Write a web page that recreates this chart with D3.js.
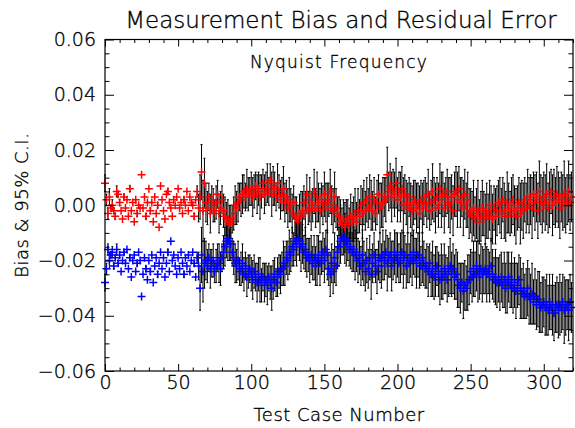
<!DOCTYPE html>
<html><head><meta charset="utf-8">
<script src="https://cdn.jsdelivr.net/npm/d3@7"></script>
<style>body{margin:0;background:#fff} svg text{font-family:"DejaVu Sans",sans-serif;font-weight:200;fill:#000;stroke:#000;stroke-width:0.35px}</style>
</head><body><svg id="c" width="575" height="428"></svg>
<script>
// Bias values in thousandths (x 0.001), case numbers 0..319
const redBiasMilli = [
8,2,-3,3,-1,0,-2,-4,5,4, 1,-2,-5,3,-1,2,-4,6,-2,1, -6,2,-3,0,-1,11,-1,3,-4,1, 6,-2,1,-6,3,-3,0,-8,7,2,
-2,-5,4,5,1,-1,-4,2,0,3, 6,-1,1,-3,2,0,5,-2,3,1, 0,-4,2,5,-1,3,12,-2,8,1, -1,3,-3,2,0,-2,1,4,-3,-1,
2,-2,-4,-5,-6,-7,-6,-5,-3,0, -1,1,3,2,4,5,3,6,4,5, 6,3,5,7,4,6,3,5,8,4, 6,8,5,9,4,7,6,3,8,5,
2,4,6,1,3,-1,2,0,-3,1, -4,-5,-6,-3,-4,-2,1,-3,4,-1, 2,-2,0,5,-1,3,1,-2,2,0, 4,1,-1,2,5,0,-2,3,-1,-3,
-4,-6,-7,-5,-8,-6,-5,-7,-4,-6, -5,-3,-6,-2,-4,0,-3,1,-2,2, -1,3,0,-2,2,-3,1,4,-1,0, 1,3,2,11,5,7,3,6,4,8,
2,5,3,6,0,4,1,-1,3,0, -2,1,2,-1,0,-3,2,-1,1,3, 0,4,-2,1,5,2,-1,3,0,6, 2,4,-1,3,5,1,0,3,-2,4,
5,2,6,1,3,-1,4,0,2,-3, -2,-4,-1,-5,-3,-2,-6,-4,-1,-3, -5,-2,-4,0,-3,-5,-1,-4,-2,1, 0,-3,2,-2,-4,1,-1,-3,0,2,
-2,-4,-1,1,-3,0,-2,2,-1,3, 0,2,-1,4,1,3,-2,5,2,0, 3,1,4,-1,2,5,0,3,1,4, 2,-1,3,1,4,0,2,5,1,3
];
const blueBiasMilli = [
-28,-23,-16,-20,-18,-17,-22,-19,-16,-21, -18,-24,-20,-17,-21,-16,-23,-19,-26,-20, -18,-24,-21,-17,-20,-33,-25,-19,-23,-27, -20,-24,-18,-28,-22,-19,-25,-21,-17,-23,
-19,-26,-21,-17,-24,-13,-20,-18,-22,-25, -19,-23,-17,-21,-25,-19,-22,-18,-24,-20, -17,-21,-26,-19,-22,-30,-18,-24,-21,-20, -22,-19,-23,-21,-20,-24,-22,-19,-21,-23,
-19,-17,-15,-13,-12,-13,-14,-17,-19,-21, -22,-20,-24,-23,-21,-25,-22,-26,-24,-23, -25,-27,-24,-26,-28,-25,-27,-29,-26,-28, -27,-29,-26,-28,-30,-27,-25,-28,-26,-24,
-25,-23,-21,-22,-19,-20,-17,-18,-15,-16, -13,-14,-12,-13,-15,-14,-17,-16,-19,-18, -20,-18,-21,-19,-22,-20,-18,-21,-19,-17, -20,-16,-18,-23,-25,-21,-24,-19,-22,-17,
-15,-13,-12,-11,-12,-14,-13,-16,-15,-17, -16,-18,-17,-20,-19,-22,-18,-21,-24,-20, -23,-19,-25,-21,-18,-22,-24,-20,-19,-22, -18,-20,-17,-21,-19,-18,-22,-20,-17,-19,
-18,-21,-19,-17,-20,-18,-22,-19,-21,-18, -20,-17,-19,-21,-18,-20,-22,-19,-21,-23, -22,-24,-21,-25,-23,-26,-24,-22,-25,-27, -24,-26,-23,-25,-27,-24,-22,-25,-23,-26,
-25,-27,-29,-30,-28,-31,-29,-30,-28,-27, -24,-26,-23,-25,-22,-24,-26,-23,-25,-24, -23,-25,-24,-26,-22,-25,-27,-26,-28,-27, -28,-26,-29,-27,-30,-28,-26,-29,-27,-30,
-28,-31,-29,-27,-30,-32,-31,-33,-32,-30, -33,-34,-32,-35,-33,-36,-34,-35,-37,-36, -35,-37,-36,-38,-35,-37,-36,-39,-37,-36, -38,-36,-37,-35,-38,-37,-36,-38,-35,-37
];
// 95% C.I. half-widths in thousandths (0 = no bar drawn)
const ciHalfMilli = [
3,2,2,3,1,2,1,1,2,1, 1,0,0,1,0,0,0,1,0,0, 0,0,1,0,0,0,0,0,1,0, 0,1,0,0,0,0,1,0,0,0,
0,0,0,1,0,0,0,0,0,0, 0,0,0,0,1,0,0,0,0,0, 0,1,0,2,5,8,10,11,9,7, 6,5,7,5,6,4,6,5,7,6,
5,6,7,6,8,7,6,5,6,7, 6,7,5,6,7,6,5,7,6,5, 6,7,6,5,7,6,8,6,5,7, 6,7,5,6,8,7,6,5,7,6,
7,6,8,7,6,7,8,6,7,6, 7,8,6,7,9,7,6,8,7,6, 8,7,6,8,7,9,7,8,6,7, 8,7,9,6,8,7,8,9,7,6,
7,8,6,7,9,8,7,6,8,7, 8,9,7,8,6,7,9,8,7,8, 7,8,9,7,8,6,8,7,9,8, 9,7,8,10,7,8,9,7,8,9,
8,7,9,8,10,7,8,9,7,8, 9,8,7,9,8,10,7,9,8,7, 8,9,7,8,10,8,9,7,8,9, 10,8,9,7,8,9,10,8,9,8,
9,10,8,9,7,10,9,8,10,9, 8,9,10,8,9,11,8,9,10,8, 9,10,8,9,10,9,8,10,9,8, 10,9,8,10,9,11,9,8,10,9,
9,10,8,9,11,9,10,8,9,10, 10,9,11,8,10,9,10,11,9,10, 9,10,11,9,10,8,11,10,9,10, 10,11,9,10,12,10,9,11,10,9
];
const xMajorTicks = [0,50,100,150,200,250,300];
const xMinorTicks = [10,20,30,40,60,70,80,90,110,120,130,140,160,170,180,190,210,220,230,240,260,270,280,290,310,320];
const yMajorTicks = [-0.06,-0.04,-0.02,0.00,0.02,0.04,0.06];
const yMinorTicks = [-0.055,-0.05,-0.045,-0.035,-0.03,-0.025,-0.015,-0.01,-0.005,0.005,0.01,0.015,0.025,0.03,0.035,0.045,0.05,0.055];
const titleText = "Measurement Bias and Residual Error";
const noteText = "Nyquist Frequency";
const xLabel = "Test Case Number";
const yLabel = "Bias & 95% C.I.";

const svg = d3.select("#c");
const L=105, R=573, T=39.5, B=371;
const x = d3.scaleLinear().domain([0,320]).range([L,R]);
const y = d3.scaleLinear().domain([-0.06,0.06]).range([B,T]);

function mk(series){ return series.map((v,i)=>({i, v:v/1000, h:ciHalfMilli[i]/1000})); }
const red = mk(redBiasMilli), blue = mk(blueBiasMilli);

// zero line
svg.append("line").attr("x1",L).attr("x2",R).attr("y1",y(0)).attr("y2",y(0))
  .attr("stroke","#888").attr("stroke-dasharray","1,3");

// error bars
function bars(data){
  const g = svg.append("g").attr("stroke","#000").attr("stroke-width",1);
  data.filter(d=>d.h>0).forEach(d=>{
    const cx = x(d.i);
    g.append("line").attr("x1",cx).attr("x2",cx).attr("y1",y(d.v-d.h)).attr("y2",y(d.v+d.h));
    g.append("line").attr("x1",cx-1).attr("x2",cx+1).attr("y1",y(d.v-d.h)).attr("y2",y(d.v-d.h));
    g.append("line").attr("x1",cx-1).attr("x2",cx+1).attr("y1",y(d.v+d.h)).attr("y2",y(d.v+d.h));
  });
}
bars(red); bars(blue);

function marks(data,color){
  svg.append("g").selectAll("path").data(data).join("path")
    .attr("d",d=>`M${x(d.i)-4},${y(d.v)}H${x(d.i)+4}M${x(d.i)},${y(d.v)-4}V${y(d.v)+4}`)
    .attr("stroke",color).attr("stroke-width",1.5).attr("fill","none");
}
marks(red,"#ff0000"); marks(blue,"#0000ff");

// axes
const fmt = d3.format(".2f");
svg.append("g").attr("transform",`translate(0,${B})`)
  .call(d3.axisBottom(x).tickValues(xMajorTicks).tickSize(-7).tickPadding(5).tickFormat(d3.format("d")))
  .call(g=>g.select(".domain").remove());
svg.append("g").attr("transform",`translate(0,${B})`)
  .call(d3.axisBottom(x).tickValues(xMinorTicks).tickSize(-3.5).tickFormat(""))
  .call(g=>g.select(".domain").remove());
svg.append("g").attr("transform",`translate(0,${T})`)
  .call(d3.axisTop(x).tickValues(xMajorTicks).tickSize(-7).tickFormat(""))
  .call(g=>g.select(".domain").remove());
svg.append("g").attr("transform",`translate(0,${T})`)
  .call(d3.axisTop(x).tickValues(xMinorTicks).tickSize(-3.5).tickFormat(""))
  .call(g=>g.select(".domain").remove());
svg.append("g").attr("transform",`translate(${L},0)`)
  .call(d3.axisLeft(y).tickValues(yMajorTicks).tickSize(-9).tickPadding(9).tickFormat(fmt))
  .call(g=>g.select(".domain").remove());
svg.append("g").attr("transform",`translate(${L},0)`)
  .call(d3.axisLeft(y).tickValues(yMinorTicks).tickSize(-4.5).tickFormat(""))
  .call(g=>g.select(".domain").remove());
svg.append("g").attr("transform",`translate(${R},0)`)
  .call(d3.axisRight(y).tickValues(yMajorTicks).tickSize(-9).tickFormat(""))
  .call(g=>g.select(".domain").remove());
svg.append("g").attr("transform",`translate(${R},0)`)
  .call(d3.axisRight(y).tickValues(yMinorTicks).tickSize(-4.5).tickFormat(""))
  .call(g=>g.select(".domain").remove());
svg.selectAll(".tick text").attr("font-size",19).attr("font-family","DejaVu Sans, sans-serif").attr("font-weight",200)
  .attr("fill","#000").attr("stroke","#000").attr("stroke-width",0.35);
svg.selectAll(".tick line").attr("stroke","#000");

svg.append("rect").attr("x",L).attr("y",T).attr("width",R-L).attr("height",B-T)
  .attr("fill","none").attr("stroke","#000").attr("stroke-width",1.2);

svg.append("text").attr("x",(L+R)/2+2).attr("y",28).attr("text-anchor","middle")
  .attr("font-size",23).text(titleText);
svg.append("text").attr("x",(L+R)/2).attr("y",68).attr("text-anchor","middle")
  .attr("font-size",17).attr("letter-spacing",1.2).text(noteText);
svg.append("text").attr("x",(L+R)/2).attr("y",421).attr("text-anchor","middle")
  .attr("font-size",18).attr("letter-spacing",0.5).text(xLabel);
svg.append("text").attr("transform",`translate(28,${(T+B)/2}) rotate(-90)`).attr("text-anchor","middle")
  .attr("font-size",18).attr("letter-spacing",0.5).text(yLabel);
</script></body></html>
